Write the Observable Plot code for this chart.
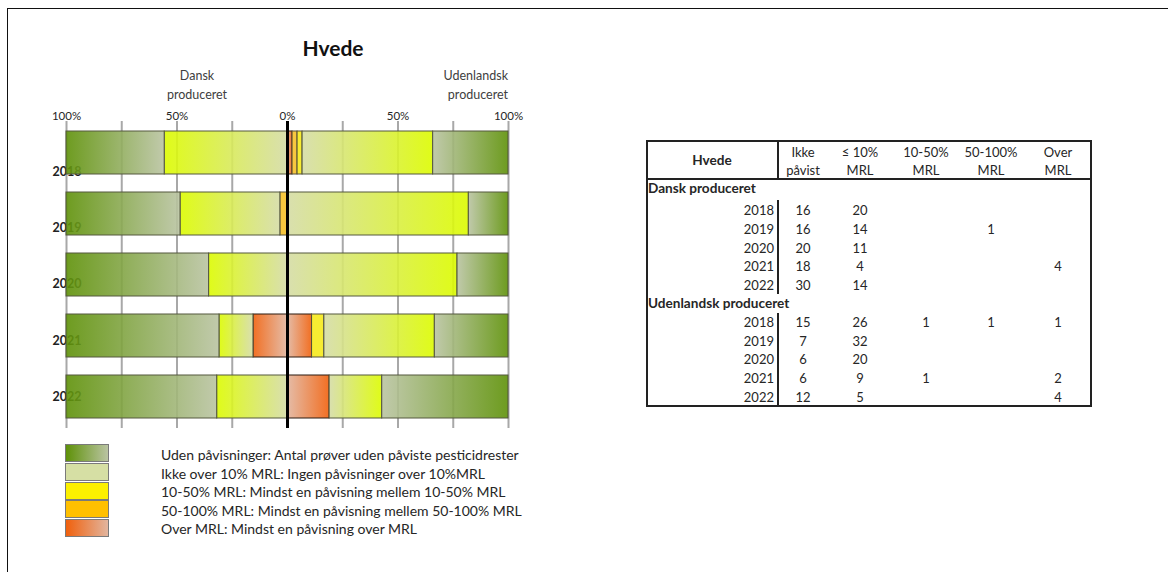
<!DOCTYPE html>
<html>
<head>
<meta charset="utf-8">
<script src="https://cdn.jsdelivr.net/npm/d3@7"></script>
<script src="https://cdn.jsdelivr.net/npm/@observablehq/plot@0.6"></script>
<style>
  html, body { margin: 0; padding: 0; background: #fff; }
  #page { position: relative; width: 1168px; height: 572px; overflow: hidden; font-family: Lato, "Open Sans", sans-serif; color: #262626; }
  #frame { position: absolute; left: 7px; top: 8px; right: -10px; bottom: -10px; border-top: 1.5px solid #111; border-left: 1.5px solid #111; }
  .abs { position: absolute; white-space: nowrap; }
  #chart { position: absolute; left: 0; top: 0; }
  .sw { position: absolute; left: 65px; width: 42px; height: 16px; border: 1px solid #7a7a7a; }
  .lg { position: absolute; left: 161px; font-size: 14px; line-height: 16px; white-space: nowrap; }
  .tc { position: absolute; font-size: 13px; line-height: 15px; transform: translate(-50%, -50%); text-align: center; white-space: nowrap; }
  .tr { position: absolute; font-size: 13px; line-height: 15px; transform: translate(-100%, -50%); white-space: nowrap; }
  .tl { position: absolute; font-size: 13.6px; line-height: 15px; transform: translate(0, -50%); font-weight: bold; white-space: nowrap; }
  .ln { position: absolute; background: #222; }
</style>
</head>
<body>
<div id="page">
  <div id="frame"></div>
  <svg width="0" height="0" style="position:absolute">
    <defs>
      <linearGradient id="gIkkeL" x1="0" x2="1" y1="0" y2="0"><stop offset="0" stop-color="#5e9108"/><stop offset="1" stop-color="#bac4a2"/></linearGradient>
      <linearGradient id="gIkkeR" x1="1" x2="0" y1="0" y2="0"><stop offset="0" stop-color="#5e9108"/><stop offset="1" stop-color="#bac4a2"/></linearGradient>
      <linearGradient id="gLeL" x1="0" x2="1" y1="0" y2="0"><stop offset="0" stop-color="#dcfb00"/><stop offset="1" stop-color="#d5dca6"/></linearGradient>
      <linearGradient id="gLeR" x1="1" x2="0" y1="0" y2="0"><stop offset="0" stop-color="#dcfb00"/><stop offset="1" stop-color="#d5dca6"/></linearGradient>
      <linearGradient id="gOverL" x1="0" x2="1" y1="0" y2="0"><stop offset="0" stop-color="#f0600c"/><stop offset="1" stop-color="#e2b59e"/></linearGradient>
      <linearGradient id="gOverR" x1="1" x2="0" y1="0" y2="0"><stop offset="0" stop-color="#f0600c"/><stop offset="1" stop-color="#e2b59e"/></linearGradient>
    </defs>
  </svg>
  <div id="chart"></div>
</div>
<script>
// ---------- data ----------
const years = [2018, 2019, 2020, 2021, 2022];
const columnHeaders = [["Ikke", "påvist"], ["≤ 10%", "MRL"], ["10-50%", "MRL"], ["50-100%", "MRL"], ["Over", "MRL"]];
const groupNames = ["Dansk produceret", "Udenlandsk produceret"];
const chartTitle = "Hvede";

const danskIkke   = [16, 16, 20, 18, 30];
const dansk10     = [20, 14, 11, 4, 14];
const dansk1050   = [0, 0, 0, 0, 0];
const dansk50100  = [0, 1, 0, 0, 0];
const danskOver   = [0, 0, 0, 4, 0];

const udenIkke    = [15, 7, 6, 6, 12];
const uden10      = [26, 32, 20, 9, 5];
const uden1050    = [1, 0, 0, 1, 0];
const uden50100   = [1, 0, 0, 0, 0];
const udenOver    = [1, 0, 0, 2, 4];

const tickValues = [-1, -0.5, 0, 0.5, 1];
const gridValues = [-1, -0.75, -0.5, -0.25, 0.25, 0.5, 0.75, 1];
const legendLabels = [
  "Uden påvisninger: Antal prøver uden påviste pesticidrester",
  "Ikke over 10% MRL: Ingen påvisninger over 10%MRL",
  "10-50% MRL: Mindst en påvisning mellem 10-50% MRL",
  "50-100% MRL: Mindst en påvisning mellem 50-100% MRL",
  "Over MRL:  Mindst en påvisning over MRL"
];

// ---------- styles ----------
const segOrder = ["over", "m50", "m10", "le10", "ikke"]; // from centre outward
const fillL = {ikke: "url(#gIkkeL)", le10: "url(#gLeL)", m10: "#f6ea1c", m50: "#f6c12a", over: "url(#gOverL)"};
const fillR = {ikke: "url(#gIkkeR)", le10: "url(#gLeR)", m10: "#f6ea1c", m50: "#f6c12a", over: "url(#gOverR)"};
const strokeC = {ikke: "#55583e", le10: "#55583e", m10: "#55503a", m50: "#55503a", over: "#2a1a10"};

const danish = {ikke: danskIkke, le10: dansk10, m10: dansk1050, m50: dansk50100, over: danskOver};
const foreign = {ikke: udenIkke, le10: uden10, m10: uden1050, m50: uden50100, over: udenOver};

function segments(counts, sign, fills) {
  const rows = [];
  years.forEach((yr, i) => {
    const total = segOrder.reduce((s, k) => s + counts[k][i], 0);
    let cum = 0;
    for (const k of segOrder) {
      const v = counts[k][i];
      if (v > 0) rows.push({year: yr, cat: k, x1: sign * cum / total, x2: sign * (cum + v) / total, fill: fills[k], stroke: strokeC[k]});
      cum += v;
    }
  });
  return rows;
}
const segs = [...segments(danish, -1, fillL), ...segments(foreign, 1, fillR)];

// category labels sit on their own axis (slightly tighter spacing than the bars)
const yearLabelMarks = years.map((yr, i) =>
  Plot.text([yr], {x: () => -1, y: d => d, text: d => String(d), textAnchor: "start", dx: -14, dy: 18.5 - i * 4.6, fontSize: 12.5, fontWeight: "bold", fill: "#222"})
);

const plot = Plot.plot({
  width: 560,
  height: 440,
  marginLeft: 66,
  marginRight: 52,
  marginTop: 121,
  marginBottom: 12,
  x: {domain: [-1, 1], axis: null},
  y: {domain: years, paddingInner: 0.3, paddingOuter: 0.15, axis: null},
  color: {type: "identity"},
  style: {fontFamily: "Lato, 'Open Sans', sans-serif", fontSize: "11px", color: "#262626", background: "transparent"},
  marks: [
    Plot.ruleX(gridValues, {stroke: "#a8a8a8", strokeWidth: 2}),
    Plot.axisX(tickValues, {anchor: "top", tickSize: 0, tickPadding: 2, fontSize: 11.5, tickFormat: d => Math.round(Math.abs(d) * 100) + "%"}),
    ...yearLabelMarks,
    Plot.barX(segs, {x1: "x1", x2: "x2", y: "year", fill: "fill", stroke: "stroke", strokeWidth: 1, fillOpacity: 0.9}),
    Plot.ruleX([0], {stroke: "#000", strokeWidth: 3})
  ]
});
document.getElementById("chart").appendChild(plot);

// ---------- HTML texts ----------
const page = document.getElementById("page");
function add(cls, text, left, top, extra) {
  const el = document.createElement("div");
  el.className = cls;
  el.textContent = text;
  el.style.left = left + "px";
  el.style.top = top + "px";
  if (extra) Object.assign(el.style, extra);
  page.appendChild(el);
  return el;
}
add("abs", chartTitle, 333, 47, {fontSize: "21px", fontWeight: "bold", transform: "translate(-50%,-50%)", color: "#111"});
add("abs", "Dansk", 197, 75, {fontSize: "12.5px", transform: "translate(-50%,-50%)", color: "#404040"});
add("abs", "produceret", 197, 94, {fontSize: "12.5px", transform: "translate(-50%,-50%)", color: "#404040"});
add("abs", "Udenlandsk", 508, 75, {fontSize: "12.5px", transform: "translate(-100%,-50%)", color: "#404040"});
add("abs", "produceret", 508, 94, {fontSize: "12.5px", transform: "translate(-100%,-50%)", color: "#404040"});

// legend
const swatchBg = [
  "linear-gradient(to right, #5e9108, #bac4a2)",
  "#d6dfa4",
  "#fcf000",
  "#ffc000",
  "linear-gradient(to right, #f0600c, #e2b59e)"
];
legendLabels.forEach((lab, i) => {
  const s = document.createElement("div");
  s.className = "sw";
  s.style.top = (444 + i * 18.8) + "px";
  s.style.background = swatchBg[i];
  page.appendChild(s);
  add("lg", lab, 161, 447 + i * 18.6);
});

// table
const tbl = {left: 646, right: 1090, top: 140, bottom: 405, headLine: 178, sep: 777};
function line(l, t, w, h) { const d = document.createElement("div"); d.className = "ln"; Object.assign(d.style, {left: l + "px", top: t + "px", width: w + "px", height: h + "px"}); page.appendChild(d); }
line(tbl.left, tbl.top, tbl.right - tbl.left, 1.5);
line(tbl.left, tbl.bottom, tbl.right - tbl.left, 1.5);
line(tbl.left, tbl.top, 1.5, tbl.bottom - tbl.top);
line(tbl.right, tbl.top, 1.5, tbl.bottom - tbl.top + 1.5);
line(tbl.left, tbl.headLine, tbl.right - tbl.left, 1.5);
line(tbl.sep, tbl.top, 1.5, tbl.headLine - tbl.top);
line(tbl.sep, 200, 1.5, 94);
line(tbl.sep, 313, 1.5, 92);

const colX = [803, 860, 926, 991, 1058];
add("tl", chartTitle, 712, 160, {transform: "translate(-50%,-50%)"});
columnHeaders.forEach((h, j) => {
  add("tc", h[0], colX[j], 152);
  add("tc", h[1], colX[j], 170);
});
const groupData = [
  [danskIkke, dansk10, dansk1050, dansk50100, danskOver],
  [udenIkke, uden10, uden1050, uden50100, udenOver]
];
const groupY = [188, 303];
const rowStep = 18.7;
groupNames.forEach((g, gi) => {
  add("tl", g, 648, groupY[gi]);
  years.forEach((yr, i) => {
    const y = groupY[gi] + 22.3 + i * rowStep - (gi === 1 ? 3.5 : 0);
    add("tr", String(yr), 774, y);
    groupData[gi].forEach((arr, j) => {
      if (arr[i] > 0) add("tc", String(arr[i]), colX[j], y);
    });
  });
});
</script>
</body>
</html>
